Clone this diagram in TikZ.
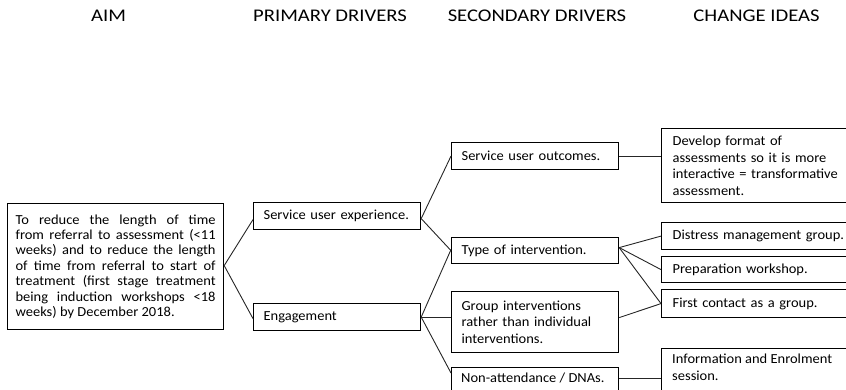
\documentclass[tikz,border=0pt]{standalone}
\usepackage{fontspec}
\setmainfont{Carlito}[FakeStretch=1.05]
\newfontfamily\hdfont{Carlito}[FakeStretch=1.16]
\begin{document}
\begin{tikzpicture}[x=1pt,y=-1pt,
  box/.style={draw, line width=1.2pt, rectangle, anchor=north west, inner ysep=0pt,
    inner xsep=10pt, align=left, text=black, font=\fontsize{13.8}{16.5}\selectfont},
  txt/.style={inner sep=0pt, align=left, text=black, font=\fontsize{13.8}{16.5}\selectfont},
  link/.style={line width=0.9pt, black!85},
  head/.style={font=\hdfont\fontsize{17.8}{20}\selectfont, inner sep=0pt, anchor=base, text=black}]
\useasboundingbox (0,0) rectangle (846,390);
\clip (0,0) rectangle (846,390);

% headers
\node[head] (hAim) at (108.5,22) {AIM};
\node[head] (hPri) at (330,22) {PRIMARY DRIVERS};
\node[head] (hSec) at (537,22) {SECONDARY DRIVERS};
\node[head] (hChg) at (756.5,22) {CHANGE IDEAS};

% aim
\node[box, inner xsep=8pt, text width=200pt, minimum width=216pt, minimum height=126pt,
  align=justify, font=\fontsize{13.8}{15.4}\selectfont] (aim) at (7,203)
  {To reduce the length of time\linebreak from referral to assessment (<11\linebreak weeks) and to reduce the length\linebreak of time from referral to start of\linebreak treatment (first stage treatment\linebreak being induction workshops <18\linebreak weeks) by December 2018.};

% primary drivers
\node[box, text width=147pt, minimum width=167pt, minimum height=27pt] (sue) at (253,202) {Service user experience.};
\node[box, text width=147pt, minimum width=167pt, minimum height=27pt] (eng) at (253,303) {Engagement};

% secondary drivers
\node[box, text width=147pt, minimum width=167pt, minimum height=27pt] (suo) at (451,142) {Service user outcomes.};
\node[box, text width=147pt, minimum width=167pt, minimum height=26pt] (toi) at (451,237) {Type of intervention.};
\node[box, text width=147pt, minimum width=167pt, minimum height=61pt] (grp) at (451,291) {Group interventions\\rather than individual\\interventions.};
\node[box, minimum width=167pt, minimum height=40pt] (non) at (451,367) {};
\node[txt, anchor=west] (nont) at (461,378) {Non-attendance / DNAs.};

% change ideas
\node[box, inner xsep=11pt, text width=187pt, minimum width=209pt, minimum height=74pt] (dev) at (661,128) {Develop format of\\assessments so it is more\\interactive = transformative\\assessment.};
\node[box, inner xsep=11pt, text width=187pt, minimum width=209pt, minimum height=27pt] (dis) at (661,222) {Distress management group.};
\node[box, inner xsep=11pt, text width=187pt, minimum width=209pt, minimum height=26pt] (pre) at (661,256) {Preparation workshop.};
\node[box, inner xsep=11pt, text width=187pt, minimum width=209pt, minimum height=28pt] (fir) at (661,289) {First contact as a group.};
\node[box, minimum width=209pt, minimum height=60pt] (inf) at (661,348) {};
\node[txt, anchor=north west] (inft) at (672,354) {Information and Enrolment\\session.};

% connectors
\draw[link] ([yshift=1pt]aim.east) -- ([yshift=-3.5pt]sue.west);
\draw[link] ([yshift=1pt]aim.east) -- ([yshift=-1.5pt]eng.west);
\draw[link] ([yshift=-2.5pt]sue.east) -- (suo.west);
\draw[link] ([yshift=-2.5pt]sue.east) -- (toi.west);
\draw[link] (eng.east) -- ([yshift=1pt]toi.west);
\draw[link] (eng.east) -- (eng.east -| grp.west);
\draw[link] (eng.east) -- ([yshift=-6pt]non.north west);
\draw[link] (suo.east) -- (suo.east -| dev.west);
\draw[link] ([yshift=3pt]toi.east) -- (dis.west);
\draw[link] ([yshift=3pt]toi.east) -- (pre.west);
\draw[link] ([yshift=3pt]toi.east) -- (fir.west);
\draw[link] ([yshift=4.5pt]grp.east) -- (fir.west);
\draw[link] (nont.east -| non.east) -- (nont.east -| inf.west);
\end{tikzpicture}
\end{document}
